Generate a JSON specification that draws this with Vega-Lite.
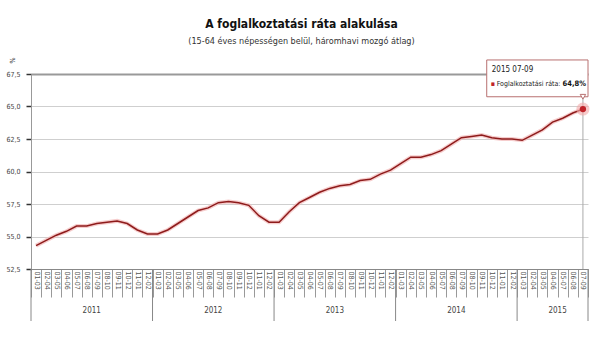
{
  "$schema": "https://vega.github.io/schema/vega-lite/v6.json",
  "autosize": {"type": "none"},
  "width": 557,
  "height": 195,
  "padding": {"left": 31, "top": 74, "right": 12, "bottom": 81},
  "background": "white",
  "config": {
    "view": {"stroke": null},
    "font": "Liberation Sans Narrow, DejaVu Sans Condensed, Roboto, sans-serif",
    "axis": {"labelFont": "Liberation Sans Narrow, DejaVu Sans Condensed, Roboto, sans-serif"}
  },
  "title": {
    "text": "A foglalkoztatási ráta alakulása",
    "subtitle": "(15-64 éves népességen belül, háromhavi mozgó átlag)",
    "anchor": "middle",
    "dx": -8,
    "offset": 10,
    "fontSize": 12,
    "fontWeight": "bold",
    "color": "#111",
    "subtitleFontSize": 9,
    "subtitleColor": "#333",
    "subtitlePadding": 6,
    "subtitleFont": "Liberation Sans Narrow, DejaVu Sans Condensed, Roboto, sans-serif"
  },
  "datasets": {
    "rate": [
      {"t": "2011 01-03", "v": 54.3}, {"t": "2011 02-04", "v": 54.7}, {"t": "2011 03-05", "v": 55.1}, {"t": "2011 04-06", "v": 55.4},
      {"t": "2011 05-07", "v": 55.8}, {"t": "2011 06-08", "v": 55.8}, {"t": "2011 07-09", "v": 56.0}, {"t": "2011 08-10", "v": 56.1},
      {"t": "2011 09-11", "v": 56.2}, {"t": "2011 10-12", "v": 56.0}, {"t": "2011 11-01", "v": 55.5}, {"t": "2011 12-02", "v": 55.2},
      {"t": "2012 01-03", "v": 55.2}, {"t": "2012 02-04", "v": 55.5}, {"t": "2012 03-05", "v": 56.0}, {"t": "2012 04-06", "v": 56.5},
      {"t": "2012 05-07", "v": 57.0}, {"t": "2012 06-08", "v": 57.2}, {"t": "2012 07-09", "v": 57.6}, {"t": "2012 08-10", "v": 57.7},
      {"t": "2012 09-11", "v": 57.6}, {"t": "2012 10-12", "v": 57.4}, {"t": "2012 11-01", "v": 56.6}, {"t": "2012 12-02", "v": 56.1},
      {"t": "2013 01-03", "v": 56.1}, {"t": "2013 02-04", "v": 56.9}, {"t": "2013 03-05", "v": 57.6}, {"t": "2013 04-06", "v": 58.0},
      {"t": "2013 05-07", "v": 58.4}, {"t": "2013 06-08", "v": 58.7}, {"t": "2013 07-09", "v": 58.9}, {"t": "2013 08-10", "v": 59.0},
      {"t": "2013 09-11", "v": 59.3}, {"t": "2013 10-12", "v": 59.4}, {"t": "2013 11-01", "v": 59.8}, {"t": "2013 12-02", "v": 60.1},
      {"t": "2014 01-03", "v": 60.6}, {"t": "2014 02-04", "v": 61.1}, {"t": "2014 03-05", "v": 61.1}, {"t": "2014 04-06", "v": 61.3},
      {"t": "2014 05-07", "v": 61.6}, {"t": "2014 06-08", "v": 62.1}, {"t": "2014 07-09", "v": 62.6}, {"t": "2014 08-10", "v": 62.7},
      {"t": "2014 09-11", "v": 62.8}, {"t": "2014 10-12", "v": 62.6}, {"t": "2014 11-01", "v": 62.5}, {"t": "2014 12-02", "v": 62.5},
      {"t": "2015 01-03", "v": 62.4}, {"t": "2015 02-04", "v": 62.8}, {"t": "2015 03-05", "v": 63.2}, {"t": "2015 04-06", "v": 63.8},
      {"t": "2015 05-07", "v": 64.1}, {"t": "2015 06-08", "v": 64.5}, {"t": "2015 07-09", "v": 64.8}
    ],
    "years": [
      {"year": "2011", "first": "2011 01-03", "mid": "2011 07-09", "last": "2011 12-02"},
      {"year": "2012", "first": "2012 01-03", "mid": "2012 07-09", "last": "2012 12-02"},
      {"year": "2013", "first": "2013 01-03", "mid": "2013 07-09", "last": "2013 12-02"},
      {"year": "2014", "first": "2014 01-03", "mid": "2014 07-09", "last": "2014 12-02"},
      {"year": "2015", "first": "2015 01-03", "mid": "2015 04-06", "last": "2015 07-09"}
    ],
    "tip": [
      {"period": "2015 07-09", "label": "Foglalkoztatási ráta:", "value": "64,8%"}
    ]
  },
  "data": {"name": "rate"},
  "layer": [
    {
      "mark": {"type": "line", "color": "#f2b8b8", "strokeWidth": 4, "opacity": 0.7},
      "encoding": {
        "x": {
          "field": "t", "type": "ordinal",
          "scale": {"type": "band", "paddingInner": 0, "paddingOuter": 0},
          "axis": {
            "title": null, "labelExpr": "split(datum.value, ' ')[1]", "labelAngle": 90,
            "labelFontSize": 7, "labelColor": "#555", "labelOverlap": false, "labelBound": false,
            "tickBand": "extent", "tickSize": 28, "tickColor": "#999", "labelPadding": -26,
            "domainColor": "#888", "grid": false
          }
        },
        "y": {
          "field": "v", "type": "quantitative",
          "scale": {"domain": [52.5, 67.5], "nice": false, "zero": false},
          "axis": {
            "title": "%", "titleAngle": 270, "titleFontSize": 7, "titleFontWeight": "normal", "titleColor": "#444",
            "titleX": -19, "titleY": -14, "titleAlign": "center", "titleBaseline": "middle",
            "values": [52.5, 55, 57.5, 60, 62.5, 65, 67.5], "tickCount": 20, "format": ".1f", "labelOverlap": false,
            "labelExpr": "replace(datum.label, '.', ',')", "labelFontSize": 7, "labelColor": "#444", "labelPadding": 6,
            "tickColor": "#333", "tickSize": 5, "tickWidth": 1.5,
            "domainColor": "#999",
            "grid": true,
            "gridColor": {"condition": {"test": "datum.value == 67.5", "value": "#999"}, "value": "#cfcfcf"},
            "gridWidth": {"condition": {"test": "datum.value == 67.5", "value": 2}, "value": 1}
          }
        }
      }
    },
    {
      "mark": {"type": "line", "color": "#8e1b1b", "strokeWidth": 1.5},
      "encoding": {
        "x": {"field": "t", "type": "ordinal"},
        "y": {"field": "v", "type": "quantitative"}
      }
    },
    {
      "transform": [{"filter": "datum.t == '2015 07-09'"}],
      "mark": {"type": "rule", "color": "#aaa", "strokeWidth": 1},
      "encoding": {
        "x": {"field": "t", "type": "ordinal"}
      }
    },
    {
      "transform": [{"filter": "datum.t == '2015 07-09'"}],
      "mark": {"type": "point", "filled": true, "color": "#f2a9a9", "size": 170, "opacity": 0.6},
      "encoding": {
        "x": {"field": "t", "type": "ordinal"},
        "y": {"field": "v", "type": "quantitative"}
      }
    },
    {
      "transform": [{"filter": "datum.t == '2015 07-09'"}],
      "mark": {"type": "point", "filled": true, "color": "#c0242a", "size": 40, "opacity": 1},
      "encoding": {
        "x": {"field": "t", "type": "ordinal"},
        "y": {"field": "v", "type": "quantitative"}
      }
    },
    {
      "data": {"name": "years"},
      "mark": {"type": "rule", "color": "#888", "strokeWidth": 1},
      "encoding": {
        "x": {"field": "first", "type": "ordinal", "bandPosition": 0},
        "y": {"datum": 52.5, "type": "quantitative"},
        "y2": {"datum": 48.5}
      }
    },
    {
      "data": {"name": "years"},
      "transform": [{"filter": "datum.year == '2015'"}],
      "mark": {"type": "rule", "color": "#888", "strokeWidth": 1},
      "encoding": {
        "x": {"field": "last", "type": "ordinal", "bandPosition": 1},
        "y": {"datum": 52.5, "type": "quantitative"},
        "y2": {"datum": 48.5}
      }
    },
    {
      "data": {"name": "years"},
      "transform": [{"filter": "datum.year != '2015'"}],
      "mark": {"type": "text", "fontSize": 8, "color": "#444", "align": "center", "baseline": "middle"},
      "encoding": {
        "x": {"field": "mid", "type": "ordinal", "bandPosition": 0},
        "y": {"datum": 49.3, "type": "quantitative"},
        "text": {"field": "year"}
      }
    },
    {
      "data": {"name": "years"},
      "transform": [{"filter": "datum.year == '2015'"}],
      "mark": {"type": "text", "fontSize": 8, "color": "#444", "align": "center", "baseline": "middle"},
      "encoding": {
        "x": {"field": "mid", "type": "ordinal", "bandPosition": 1},
        "y": {"datum": 49.3, "type": "quantitative"},
        "text": {"field": "year"}
      }
    },
    {
      "data": {"name": "tip"},
      "mark": {"type": "rect", "fill": "white", "fillOpacity": 1, "stroke": "#b87070", "strokeWidth": 1},
      "encoding": {
        "x": {"datum": "2014 10-12", "type": "ordinal", "bandPosition": 0},
        "x2": {"datum": "2015 07-09", "bandPosition": 1},
        "y": {"datum": 68.58, "type": "quantitative"},
        "y2": {"datum": 65.75}
      }
    },
    {
      "data": {"name": "tip"},
      "mark": {"type": "point", "shape": "triangle-down", "filled": true, "fill": "white", "stroke": "#b87070", "strokeWidth": 1, "size": 30, "dy": 3, "opacity": 1},
      "encoding": {
        "x": {"field": "period", "type": "ordinal"},
        "y": {"datum": 65.75, "type": "quantitative"}
      }
    },
    {
      "data": {"name": "tip"},
      "mark": {"type": "text", "align": "left", "baseline": "middle", "fontSize": 8, "color": "#222", "dx": 5},
      "encoding": {
        "x": {"datum": "2014 10-12", "type": "ordinal", "bandPosition": 0},
        "y": {"datum": 67.8, "type": "quantitative"},
        "text": {"field": "period"}
      }
    },
    {
      "data": {"name": "tip"},
      "mark": {"type": "text", "align": "left", "baseline": "middle", "fontSize": 7, "color": "#c0242a", "dx": 4},
      "encoding": {
        "x": {"datum": "2014 10-12", "type": "ordinal", "bandPosition": 0},
        "y": {"datum": 66.73, "type": "quantitative"},
        "text": {"value": "▪"}
      }
    },
    {
      "data": {"name": "tip"},
      "mark": {"type": "text", "align": "left", "baseline": "middle", "fontSize": 7, "color": "#222", "dx": 10},
      "encoding": {
        "x": {"datum": "2014 10-12", "type": "ordinal", "bandPosition": 0},
        "y": {"datum": 66.73, "type": "quantitative"},
        "text": {"field": "label"}
      }
    },
    {
      "data": {"name": "tip"},
      "mark": {"type": "text", "align": "right", "baseline": "middle", "fontSize": 7.5, "fontWeight": "bold", "color": "#111", "dx": -2},
      "encoding": {
        "x": {"datum": "2015 07-09", "type": "ordinal", "bandPosition": 1},
        "y": {"datum": 66.73, "type": "quantitative"},
        "text": {"field": "value"}
      }
    }
  ]
}
